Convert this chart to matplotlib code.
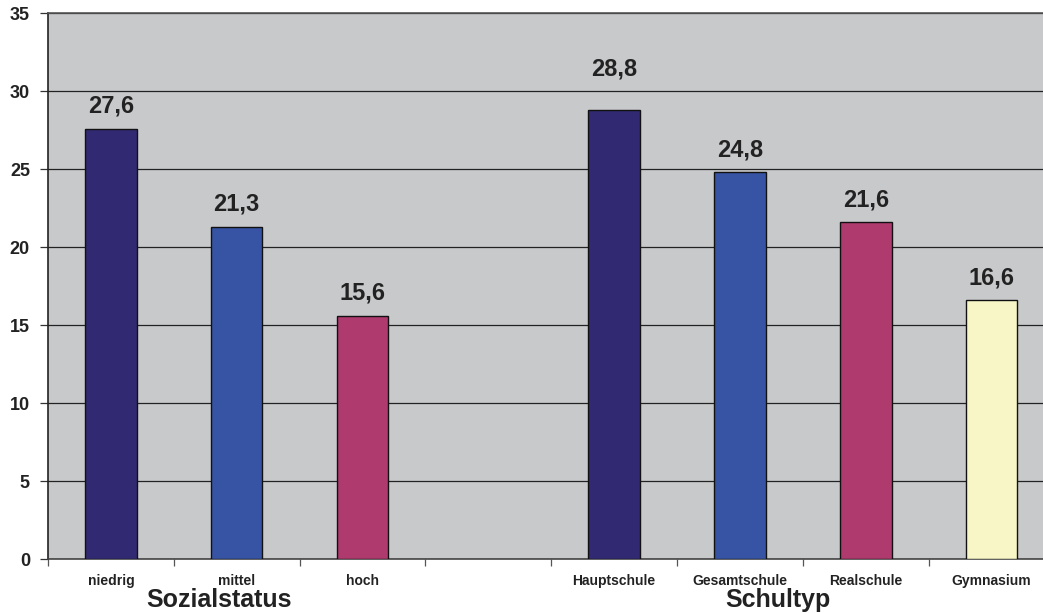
import matplotlib
matplotlib.use("Agg")
import matplotlib.pyplot as plt
import numpy as np

# Data
status_labels = ["niedrig", "mittel", "hoch"]
status_values = [27.6, 21.3, 15.6]
school_labels = ["Hauptschule", "Gesamtschule", "Realschule", "Gymnasium"]
school_values = [28.8, 24.8, 21.6, 16.6]
group_titles = ["Sozialstatus", "Schultyp"]
y_ticks = [0, 5, 10, 15, 20, 25, 30, 35]

status_colors = ["#312a72", "#3753a4", "#ae3a6e"]
school_colors = ["#312a72", "#3753a4", "#ae3a6e", "#f8f6c6"]

# value labels that sit further above their bar (points)
label_lift = {"Hauptschule": 21}

plt.rcParams["font.family"] = ["Liberation Sans", "DejaVu Sans"]
plt.rcParams["font.weight"] = "bold"

fig = plt.figure(figsize=(10.43, 6.13), dpi=100)
ax = fig.add_axes([0.046, 0.088, 0.965, 0.890])
ax.set_facecolor("#c8c9cb")

# slot positions: one empty slot separates the two groups
status_x = np.arange(len(status_labels))
school_x = np.arange(len(school_labels)) + len(status_labels) + 1

bar_w = 0.41
txt = "#222222"
for xs, vals, cols, names in [(status_x, status_values, status_colors, status_labels),
                              (school_x, school_values, school_colors, school_labels)]:
    bars = ax.bar(xs, vals, width=bar_w, color=cols, edgecolor="#111111",
                  linewidth=1.0, zorder=3)
    for b, v, name in zip(bars, vals, names):
        ax.annotate(f"{v:.1f}".replace(".", ","),
                    (b.get_x() + b.get_width() / 2, v),
                    xytext=(0, label_lift.get(name, 8)), textcoords="offset points",
                    ha="center", va="bottom", fontsize=17,
                    fontweight="bold", color=txt)

n_slots = len(status_labels) + 1 + len(school_labels)
ax.set_xlim(-0.5, n_slots - 0.5)
ax.set_ylim(0, 35)
ax.set_yticks(y_ticks)
ax.yaxis.grid(True, color="#222222", linewidth=0.9, zorder=1)
ax.set_axisbelow(True)

ax.tick_params(axis="y", length=6, width=0.9, color="#333333",
               labelsize=13, labelcolor=txt, pad=7)
for lab in ax.get_yticklabels():
    lab.set_fontweight("bold")

# category boundary ticks below the axis
ax.set_xticks(np.arange(-0.5, n_slots - 0.5, 1.0))
ax.set_xticklabels([])
ax.tick_params(axis="x", length=5, width=0.9, color="#555555")

for x, lab in zip(list(status_x) + list(school_x), status_labels + school_labels):
    ax.text(x, -1.4, lab, ha="center", va="center", fontsize=10,
            fontweight="bold", color=txt, clip_on=False)

ax.text(status_x.mean() - 0.14, -2.65, group_titles[0], ha="center", va="center",
        fontsize=18, fontweight="bold", color=txt, clip_on=False)
ax.text(school_x.mean() - 0.2, -2.65, group_titles[1], ha="center", va="center",
        fontsize=18, fontweight="bold", color=txt, clip_on=False)

for side in ["top", "right"]:
    ax.spines[side].set_color("#555555")
    ax.spines[side].set_linewidth(1.2)
ax.spines["left"].set_color("#222222")
ax.spines["left"].set_linewidth(1.2)
ax.spines["bottom"].set_color("#444444")
ax.spines["bottom"].set_linewidth(1.2)

fig.savefig("out.png", dpi=100)
